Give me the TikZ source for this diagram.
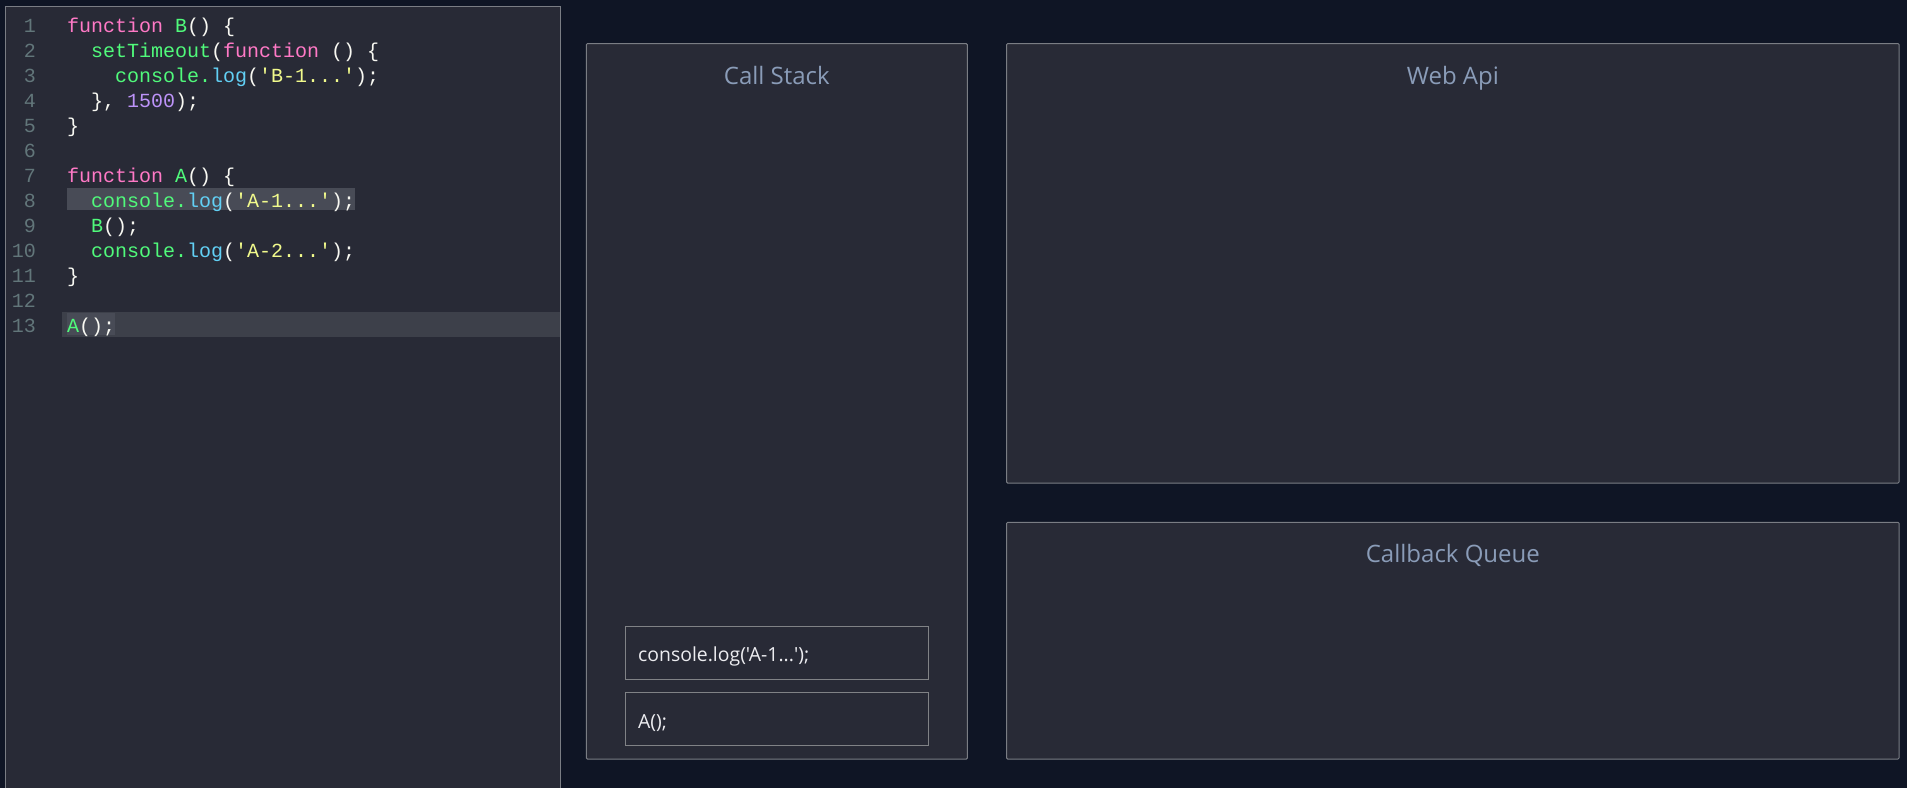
\documentclass[tikz,border=0pt]{standalone}
\usepackage{fontspec}
\setmonofont{Liberation Mono}
\newfontfamily\uifont{Open Sans}[Ligatures=TeXOff]
\definecolor{bg}{RGB}{15,21,37}
\definecolor{panel}{RGB}{40,42,54}
\definecolor{edge}{RGB}{122,125,132}
\definecolor{itemedge}{RGB}{128,130,134}
\definecolor{lnum}{RGB}{98,118,122}
\definecolor{kw}{HTML}{FF79C6}
\definecolor{fn}{HTML}{50FA7B}
\definecolor{cy}{HTML}{62D0F5}
\definecolor{yl}{HTML}{F1FA8C}
\definecolor{pu}{HTML}{BD93F9}
\definecolor{wt}{HTML}{F8F8F2}
\definecolor{sel}{RGB}{72,75,86}
\definecolor{curline}{RGB}{61,64,74}
\definecolor{titlecol}{RGB}{138,156,184}
\definecolor{itemtext}{RGB}{236,236,240}
\newcommand{\K}[1]{\textcolor{kw}{#1}}
\newcommand{\F}[1]{\textcolor{fn}{#1}}
\newcommand{\C}[1]{\textcolor{cy}{#1}}
\newcommand{\Y}[1]{\textcolor{yl}{#1}}
\newcommand{\Pu}[1]{\textcolor{pu}{#1}}
\begin{document}
\begin{tikzpicture}[x=1pt,y=-1pt,
  codeline/.style={anchor=base west, inner sep=0pt, outer sep=0pt, font=\ttfamily\fontsize{20}{24}\selectfont, text=wt},
  linenum/.style={anchor=base east, inner sep=0pt, outer sep=0pt, font=\ttfamily\fontsize{20}{24}\selectfont, text=lnum},
  panelbox/.style={fill=panel, draw=edge, line width=1pt, anchor=north west, inner sep=0pt, outer sep=0pt, rounded corners=1pt},
  stackitem/.style={fill=panel, draw=itemedge, line width=1pt, anchor=north west, inner sep=0pt, outer sep=0pt},
  boxtitle/.style={anchor=base, inner sep=0pt, font=\uifont\fontsize{24}{28}\selectfont, text=titlecol},
  itemlabel/.style={anchor=base west, inner sep=0pt, font=\uifont\fontsize{19.4}{23}\selectfont, text=itemtext}]
\fill[bg] (0,0) rectangle (1907,788);
\useasboundingbox (0,0) rectangle (1907,788);

% code panel
\fill[panel] (5.5,6) rectangle (560.3,788);
\draw[edge, line width=1pt] (5.5,788) -- (5.5,6) -- (560.3,6) -- (560.3,788);
% current line and selection highlights
\fill[curline] (62,312) rectangle (560,337);
\fill[sel] (67,313) rectangle (115,335);
\fill[sel] (67,188) rectangle (355,210);

% line numbers
\foreach \i in {1,...,13}
  \node[linenum] (n\i) at (36,{32+(\i-1)*25.05}) {\i};

% code lines (pitch 12 per character, origin 67)
\node[codeline] (l1)  at (67,32)                {\K{function} \F{B}() \{};
\node[codeline] (l2)  at (91,{32+1*25.05})      {\F{setTimeout}(\K{function} () \{};
\node[codeline] (l3)  at (115,{32+2*25.05})     {\F{console.}\C{log}(\Y{'B-1...'});};
\node[codeline] (l4)  at (91,{32+3*25.05})      {\}, \Pu{1500});};
\node[codeline] (l5)  at (67,{32+4*25.05})      {\}};
\node[codeline] (l7)  at (67,{32+6*25.05})      {\K{function} \F{A}() \{};
\node[codeline] (l8)  at (91,{32+7*25.05})      {\F{console.}\C{log}(\Y{'A-1...'});};
\node[codeline] (l9)  at (91,{32+8*25.05})      {\F{B}();};
\node[codeline] (l10) at (91,{32+9*25.05})      {\F{console.}\C{log}(\Y{'A-2...'});};
\node[codeline] (l11) at (67,{32+10*25.05})     {\}};
\node[codeline] (l13) at (67,{32+12*25.05})     {\F{A}();};

% call stack
\node[panelbox, minimum width=381pt, minimum height=715.3pt] (callstack) at (586.3,43.7) {};
\node[boxtitle] (cstitle) at (776.8,84) {Call Stack};
\node[stackitem, minimum width=303.4pt, minimum height=53pt] (item1) at (625.3,626.3) {};
\node[stackitem, minimum width=303.4pt, minimum height=53pt] (item2) at (625.3,692.3) {};
\node[itemlabel] (item1text) at (638,661.7) {console.log('A-1...');};
\node[itemlabel] (item2text) at (638,728.3) {A();};

% web api
\node[panelbox, minimum width=892.3pt, minimum height=439.5pt] (webapi) at (1006.7,43.5) {};
\node[boxtitle] (watitle) at (1452.85,84) {Web Api};

% callback queue
\node[panelbox, minimum width=892.3pt, minimum height=236.7pt] (queue) at (1006.7,522.3) {};
\node[boxtitle] (cqtitle) at (1452.85,562.6) {Callback Queue};
\end{tikzpicture}
\end{document}
